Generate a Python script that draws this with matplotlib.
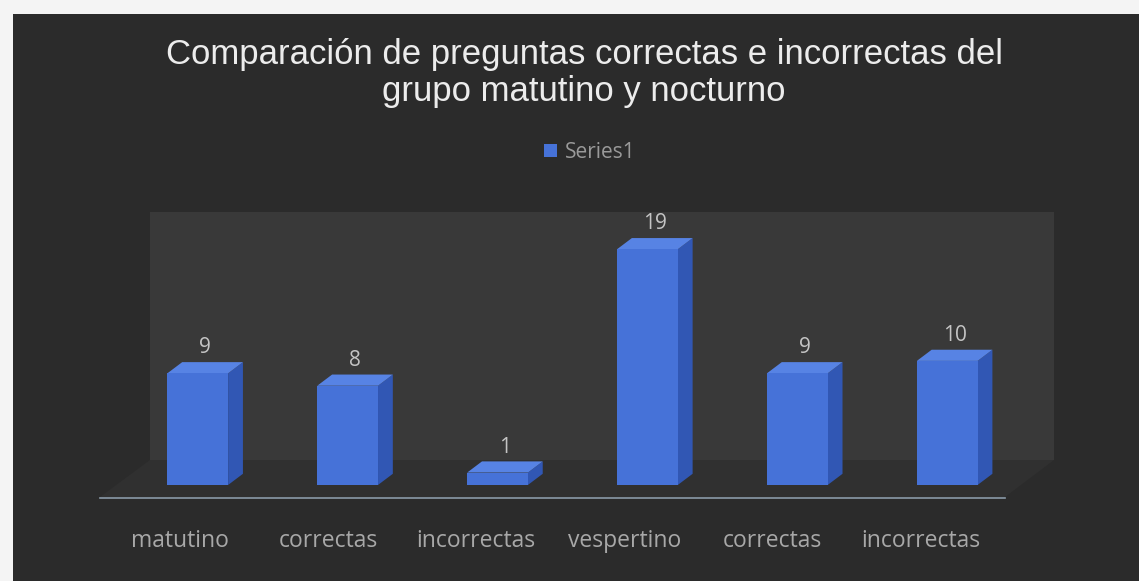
import matplotlib
matplotlib.use("Agg")
import matplotlib.pyplot as plt
from matplotlib.patches import Rectangle, Polygon
import numpy as np

categories = ["matutino", "correctas", "incorrectas", "vespertino", "correctas", "incorrectas"]
values = [9, 8, 1, 19, 9, 10]
series_name = "Series1"
title = "Comparación de preguntas correctas e incorrectas del\ngrupo matutino y nocturno"

W, H = 1139, 581
fig = plt.figure(figsize=(W / 100, H / 100), dpi=100)
fig.patch.set_facecolor("#f4f4f4")

def px_rect(x0, y0, x1, y1):
    # pixel box (top-left origin) -> figure fraction
    return (x0 / W, 1 - y1 / H, (x1 - x0) / W, (y1 - y0) / H)

# dark chart background
x, y, w, h = px_rect(13, 14, W, H)
fig.patches.append(Rectangle((x, y), w, h, transform=fig.transFigure,
                             facecolor="#2b2b2b", edgecolor="none", zorder=-3))
# back wall
x, y, w, h = px_rect(150, 212, 1054, 460)
fig.patches.append(Rectangle((x, y), w, h, transform=fig.transFigure,
                             facecolor="#393939", edgecolor="none", zorder=-2))
# floor
floor = Polygon([(150 / W, 1 - 460 / H), (1054 / W, 1 - 460 / H),
                 (1005 / W, 1 - 497 / H), (100 / W, 1 - 497 / H)],
                closed=True, transform=fig.transFigure,
                facecolor="#303030", edgecolor="none", zorder=-2)
fig.patches.append(floor)

# axes: left px 100, right px 1005, bottom px 498, top px 212
ax = fig.add_axes(px_rect(100, 212, 1005, 498))
ax.set_zorder(1)
ax.set_facecolor("none")
n = len(categories)
pos = np.arange(n)
ax.set_xlim(-0.54, n - 1 + 0.57)
ax.set_ylim(-1.05, 22.0)

shift = 0.12
spread = 0.012  # slight perspective spread of the 3D columns
width = 0.41
dx = 0.10
dy = 0.9
front = "#4672d8"
side = "#3157b4"
top = "#5783e4"

bars = ax.bar(pos * (1 + spread) + shift, values, width=width, color=front,
              edgecolor="none", zorder=3)
for b, v in zip(bars, values):
    x0 = b.get_x()
    x1 = x0 + b.get_width()
    ax.add_patch(Polygon([(x1, 0), (x1 + dx, dy), (x1 + dx, v + dy), (x1, v)],
                         closed=True, facecolor=side, edgecolor="none", zorder=2))
    ax.add_patch(Polygon([(x0, v), (x0 + dx, v + dy), (x1 + dx, v + dy), (x1, v)],
                         closed=True, facecolor=top, edgecolor="none", zorder=2))
    ax.text(x0 + b.get_width() / 2 + dx / 2, v + dy + 0.3, str(v),
            ha="center", va="bottom", color="#c4c4c4", fontsize=15,
            family="Open Sans", zorder=4)

for s in ["top", "right", "left"]:
    ax.spines[s].set_visible(False)
ax.spines["bottom"].set_color("#8a9aa8")
ax.spines["bottom"].set_linewidth(1.2)
ax.set_yticks([])
ax.set_xticks(pos)
ax.set_xticklabels(categories, color="#a8a8a8", fontsize=16.5, family="Open Sans")
ax.tick_params(axis="x", length=0, pad=22)

fig.text(584 / W, 1 - 73 / H, title, ha="center", va="center", color="#ececec",
         fontsize=25, family="Liberation Sans", linespacing=1.12)

# legend
leg = ax.legend([Rectangle((0, 0), 1, 1, facecolor=front)], [series_name],
                loc="center", bbox_to_anchor=(590 / W, 1 - 152 / H),
                bbox_transform=fig.transFigure, frameon=False,
                handlelength=0.6, handleheight=0.6, handletextpad=0.4,
                prop={"family": "Open Sans", "size": 15})
for t in leg.get_texts():
    t.set_color("#9a9a9a")

fig.savefig("out.png", dpi=100, facecolor=fig.get_facecolor())
